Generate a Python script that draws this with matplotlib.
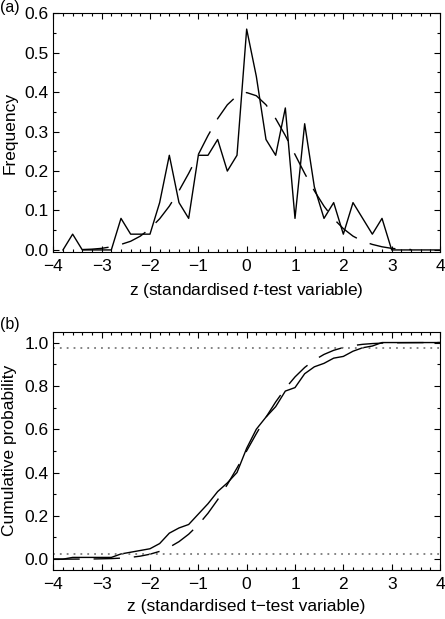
import numpy as np
import matplotlib
matplotlib.use("Agg")
import matplotlib.pyplot as plt
from matplotlib.ticker import MultipleLocator

plt.rcParams['font.family'] = ['Liberation Sans', 'DejaVu Sans']
plt.rcParams['mathtext.fontset'] = 'custom'
plt.rcParams['mathtext.rm'] = 'Liberation Sans'
plt.rcParams['mathtext.it'] = 'Liberation Sans:italic'
plt.rcParams['axes.unicode_minus'] = True

# (a) histograma de frecuencias
z_hist = [-3.8, -3.6, -3.4, -3.2, -3.0, -2.8, -2.6, -2.4, -2.2, -2.0, -1.8, -1.6, -1.4, -1.2,
          -1.0, -0.8, -0.6, -0.4, -0.2, 0.0, 0.2, 0.4, 0.6, 0.8, 1.0, 1.2, 1.4, 1.6, 1.8,
          2.0, 2.2, 2.4, 2.6, 2.8, 3.0, 4.0]
frecuencia = [0.0, 0.04, 0.0, 0.0, 0.0, 0.0, 0.08, 0.04, 0.04, 0.04, 0.12, 0.24, 0.12, 0.08,
              0.24, 0.24, 0.28, 0.20, 0.24, 0.56, 0.44, 0.28, 0.24, 0.36, 0.08, 0.32, 0.16, 0.08, 0.12,
              0.04, 0.12, 0.08, 0.04, 0.08, 0.0, 0.0]

# curva normal de referencia (a), valores leidos
z_norm = [-3.4, -3.2, -3.0, -2.8, -2.6, -2.4, -2.2, -2.0, -1.8, -1.6, -1.4, -1.2, -1.0,
          -0.8, -0.6, -0.4, -0.2, 0.0, 0.2, 0.4, 0.6, 0.8, 1.0, 1.2, 1.4, 1.6, 1.8,
          2.0, 2.2, 2.4, 2.6, 2.8, 3.0, 3.2, 3.4]
densidad = [0.001, 0.002, 0.004, 0.008, 0.014, 0.022, 0.035, 0.054, 0.079, 0.111, 0.150, 0.194, 0.242,
            0.290, 0.333, 0.368, 0.391, 0.399, 0.391, 0.368, 0.333, 0.290, 0.242, 0.194, 0.150, 0.111, 0.079,
            0.054, 0.035, 0.022, 0.014, 0.008, 0.004, 0.002, 0.001]

# (b) probabilidad acumulada
z_acum = [-4.0, -3.8, -3.6, -3.4, -3.2, -3.0, -2.8, -2.6, -2.4, -2.2, -2.0, -1.8, -1.6, -1.4,
          -1.2, -1.0, -0.8, -0.6, -0.4, -0.2, 0.0, 0.2, 0.4, 0.6, 0.8, 1.0, 1.2, 1.4, 1.6,
          1.8, 2.0, 2.2, 2.4, 2.6, 2.8, 3.0, 4.0]
acumulada = [0.0, 0.0, 0.008, 0.008, 0.008, 0.008, 0.008, 0.024, 0.032, 0.040, 0.048, 0.072, 0.120, 0.144,
             0.160, 0.208, 0.256, 0.312, 0.352, 0.400, 0.512, 0.600, 0.656, 0.704, 0.776, 0.792, 0.856, 0.888, 0.904,
             0.928, 0.936, 0.960, 0.976, 0.984, 1.0, 1.0, 1.0]

z_cdf_norm = [-4.0, -3.6, -3.2, -2.8, -2.6, -2.4, -2.2, -2.0, -1.8, -1.6, -1.4, -1.2, -1.0,
              -0.8, -0.6, -0.4, -0.2, 0.0, 0.2, 0.4, 0.6, 0.8, 1.0, 1.2, 1.4, 1.6, 1.8,
              2.0, 2.2, 2.4, 2.6, 2.8, 3.2, 3.6, 4.0]
prob_norm = [0.0, 0.0002, 0.0007, 0.0026, 0.0047, 0.0082, 0.0139, 0.0228, 0.0359, 0.0548, 0.0808, 0.1151, 0.1587,
             0.2119, 0.2743, 0.3446, 0.4207, 0.5, 0.5793, 0.6554, 0.7257, 0.7881, 0.8413, 0.8849, 0.9192, 0.9452, 0.9641,
             0.9772, 0.9861, 0.9918, 0.9953, 0.9974, 0.9993, 0.9998, 1.0]

limites = [0.025, 0.975]

fig = plt.figure(figsize=(4.45, 6.19), dpi=100)
ax1 = fig.add_axes([0.1198, 0.5924, 0.869, 0.3861])
ax2 = fig.add_axes([0.1198, 0.0792, 0.869, 0.3849])

guiones = (0, (19, 10))
tam = 12.5

ax1.plot(z_hist, frecuencia, color='black', lw=1.0)
ax1.plot(z_norm, densidad, color='black', lw=1.0, linestyle=guiones)
ax1.set_xlim(-4, 4)
ax1.set_ylim(-0.006, 0.6)
ax1.yaxis.set_major_locator(MultipleLocator(0.1))
ax1.yaxis.set_minor_locator(MultipleLocator(0.05))
ax1.yaxis.set_major_formatter(plt.FormatStrFormatter('%.1f'))
ax1.set_xlabel('z (standardised $t$-test variable)', fontsize=tam, labelpad=5)
ax1.set_ylabel('Frequency', fontsize=tam, labelpad=5)

ax2.plot(z_acum, acumulada, color='black', lw=1.0)
ax2.plot(z_cdf_norm, prob_norm, color='black', lw=1.0, linestyle=guiones)
for lim in limites:
    ax2.axhline(lim, color='#7a7a7a', lw=1.3, linestyle=(0, (1.0, 2.8)))
ax2.set_xlim(-4, 4)
ax2.set_ylim(-0.05, 1.05)
ax2.yaxis.set_major_locator(MultipleLocator(0.2))
ax2.yaxis.set_minor_locator(MultipleLocator(0.1))
ax2.yaxis.set_major_formatter(plt.FormatStrFormatter('%.1f'))
ax2.set_xlabel('z (standardised t\u2212test variable)', fontsize=tam, labelpad=5)
ax2.set_ylabel('Cumulative probability', fontsize=tam, labelpad=5)

for ax in (ax1, ax2):
    ax.xaxis.set_major_locator(MultipleLocator(1))
    ax.xaxis.set_minor_locator(MultipleLocator(0.2))
    ax.tick_params(which='both', direction='in', top=True, right=True, width=0.8)
    ax.tick_params(which='major', length=4, labelsize=tam, pad=5)
    ax.tick_params(which='minor', length=2.2)
    ax.tick_params(axis='y', pad=3.5)
    for s in ax.spines.values():
        s.set_linewidth(0.8)

fig.text(0.0, 0.9885, '(a)', fontsize=11.5, ha='left', va='center')
fig.text(0.0, 0.4750, '(b)', fontsize=11.5, ha='left', va='center')

fig.savefig('out.png', dpi=100)
